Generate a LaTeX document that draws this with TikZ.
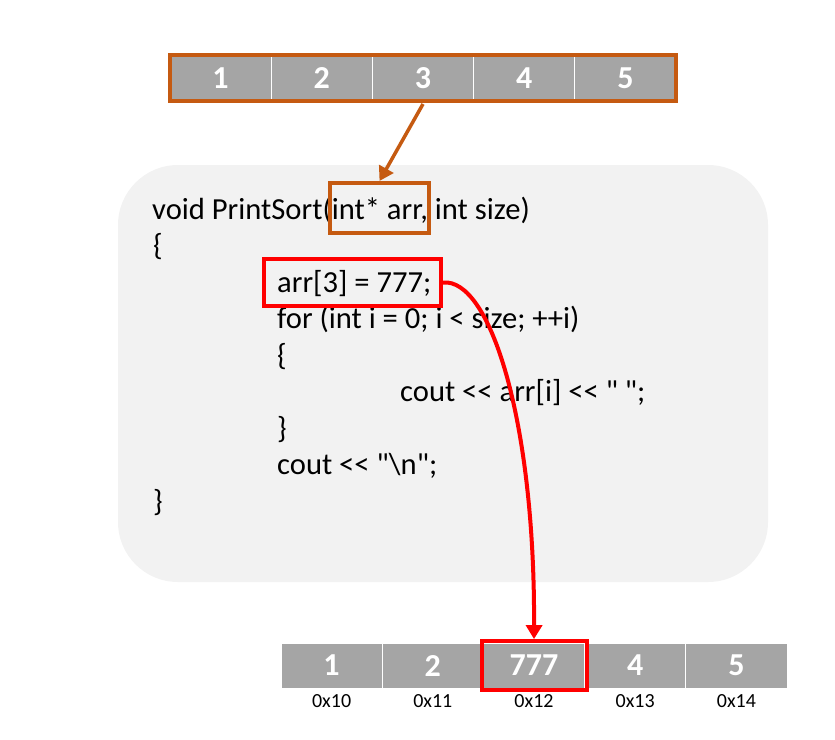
\documentclass[tikz,border=0pt]{standalone}
\usepackage{fontspec}
\setmainfont{Carlito}[Ligatures=TeXOff]
\usetikzlibrary{arrows.meta,fit}
\definecolor{cellgray}{HTML}{A5A5A5}
\definecolor{panelgray}{HTML}{F2F2F2}
\definecolor{rustorange}{HTML}{C55A11}
\begin{document}
\begin{tikzpicture}[x=1pt,y=-1pt,
  cell/.style={fill=cellgray,draw=white,line width=0.8pt,minimum width=101.2pt,minimum height=46pt,inner sep=0pt,text=white,font=\fontsize{32}{36}\selectfont\bfseries},
  addr/.style={font=\fontsize{20}{24}\selectfont,inner sep=0pt},
  codeline/.style={anchor=base west,inner sep=0pt,font=\fontsize{30.6}{36}\selectfont},
  orangebox/.style={draw=rustorange,line width=4pt},
  redbox/.style={draw=red,line width=4pt}]
\useasboundingbox (0,0) rectangle (835,739);
% top array
\foreach \i/\v in {1/1,2/2,3/3,4/4,5/5}{
  \node[cell] (t\i) at ({170+101.2*(\i-0.5)},78) {\v};
}
\node[orangebox,fit=(t1)(t5),inner sep=0pt] (tframe) {};
% code panel
\node[fill=panelgray,rounded corners=60pt,minimum width=650pt,minimum height=417pt,inner sep=0pt] (panel) at (443,373.5) {};
\node[codeline] (l1) at (152,219) {void PrintSort(int* arr, int size)};
\node[codeline] (l2) at (153,255.5) {\{};
\node[codeline,inner sep=0pt] (l3) at (277,292) {arr[3] = 777;};
\node[codeline] (l4) at (277,328.5) {for (int i = 0; i < size; ++i)};
\node[codeline] (l5) at (277,365) {\{};
\node[codeline] (l6) at (400,401.5) {cout << arr[i] << " ";};
\node[codeline] (l7) at (277,438) {\}};
\node[codeline] (l8) at (277,474.5) {cout << "\textbackslash n";};
\node[codeline] (l9) at (153,511) {\}};
% highlight boxes in code
\node[orangebox,minimum width=99pt,minimum height=50pt,inner sep=0pt] (pbox) at (379.5,208) {};
\node[redbox,minimum width=177pt,minimum height=47pt,inner sep=0pt] (abox) at (352.5,282.5) {};
% bottom array
\foreach \i/\v in {1/1,2/2,3/777,4/4,5/5}{
  \node[cell,minimum height=45pt] (b\i) at ({281+101.2*(\i-0.5)},665.5) {\v};
}
\foreach \i/\a in {1/0x10,2/0x11,3/0x12,4/0x13,5/0x14}{
  \node[addr] (a\i) at ({281+101.2*(\i-0.5)},701) {\a};
}
\node[redbox,fit=(b3),inner sep=1.5pt] (bframe) {};
% arrows
\draw[rustorange,line width=3.5pt,-{Triangle[length=14pt,width=16pt]}] (423,104) -- (pbox.north);
\draw[red,line width=4pt,-{Triangle[length=14pt,width=16pt]}] (abox.east) .. controls (490,278) and (535,420) .. (bframe.north);
\end{tikzpicture}
\end{document}
